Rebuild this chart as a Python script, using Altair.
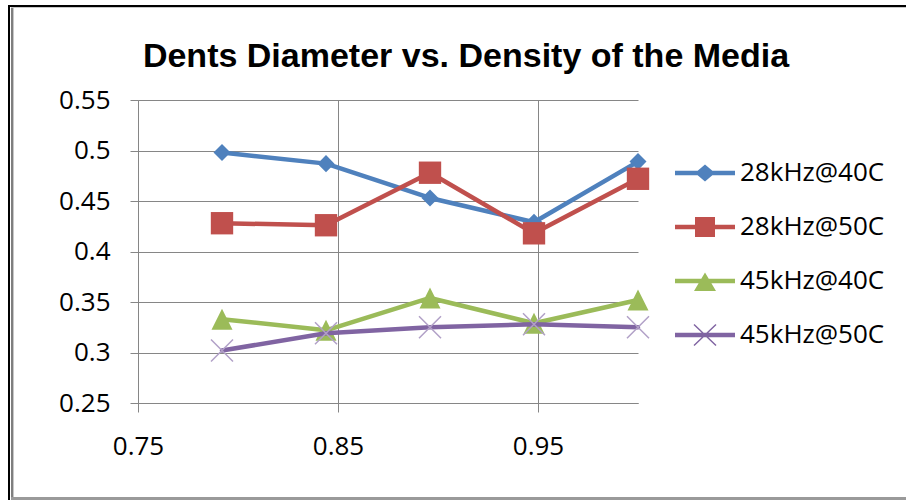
import altair as alt
import pandas as pd

# Media density (x) and measured dent diameters (y) for each run
density = [0.792, 0.844, 0.896, 0.948, 1.0]
series_names = ["28kHz@40C", "28kHz@50C", "45kHz@40C", "45kHz@50C"]
dia_28k_40c = [0.498, 0.487, 0.453, 0.429, 0.489]
dia_28k_50c = [0.428, 0.426, 0.478, 0.418, 0.472]
dia_45k_40c = [0.333, 0.322, 0.354, 0.329, 0.352]
dia_45k_50c = [0.302, 0.319, 0.325, 0.328, 0.325]

x_ticks = [0.75, 0.85, 0.95]
y_ticks = [0.25, 0.30, 0.35, 0.40, 0.45, 0.50, 0.55]

series_colors = ["#4F81BD", "#C0504D", "#9BBB59", "#8064A2"]
cross_color = "#B1A0C7"
grid_gray = "#868686"

rows = []
for name, vals in zip(series_names, [dia_28k_40c, dia_28k_50c, dia_45k_40c, dia_45k_50c]):
    for d, v in zip(density, vals):
        rows.append({"density": d, "diameter": v, "series": name})
df = pd.DataFrame(rows)

W, H = 500, 303
PAD_L, PAD_T = 138, 100

x_enc = alt.X(
    "density:Q",
    scale=alt.Scale(domain=[0.75, 1.0], nice=False, zero=False),
    axis=alt.Axis(values=x_ticks, format=".2f", title=None, grid=True,
                  tickSize=9, labelPadding=21, labelFlush=False),
)
y_enc = alt.Y(
    "diameter:Q",
    scale=alt.Scale(domain=[0.25, 0.55], nice=False, zero=False),
    axis=alt.Axis(values=y_ticks, format=".2~f", title=None, grid=True,
                  tickSize=8, labelPadding=20, labelFlush=False),
)

# marker shapes (unit paths scaled by the symbol size)
tri_path = "M0,-1L1,1L-1,1Z"
x_path = "M-1,-1L1,1M-1,1L1,-1"

# legend glyphs: a line segment with the series marker on it
seg = "M-3,-0.22H3V0.22H-3Z"
legend_paths = [
    seg + "M-1,0L0,-0.85L1,0L0,0.85Z",
    seg + "M-1,-1H1V1H-1Z",
    seg + "M0,-0.85L1.1,1L-1.1,1Z",
    seg + "M-1.15,-1L-1.05,-1.1L1.15,1L1.05,1.1ZM-1.15,1L1.05,-1.1L1.15,-1L-1.05,1.1Z",
]

base = alt.Chart(df)


def series_line(name, color):
    return base.transform_filter(alt.datum.series == name).mark_line(
        color=color, strokeWidth=4.5, strokeJoin="round", strokeCap="round"
    ).encode(x=x_enc, y=y_enc)


def series_points(name, **mark_kw):
    return base.transform_filter(alt.datum.series == name).mark_point(
        opacity=1, **mark_kw
    ).encode(x=x_enc, y=y_enc)


layers = []
layers.append(series_line(series_names[0], series_colors[0]))
layers.append(series_points(series_names[0], shape="diamond", filled=True,
                            size=290, color=series_colors[0]))
layers.append(series_line(series_names[1], series_colors[1]))
layers.append(series_points(series_names[1], shape="square", filled=True,
                            size=500, color=series_colors[1]))
layers.append(series_line(series_names[2], series_colors[2]))
layers.append(series_points(series_names[2], shape=tri_path, filled=True,
                            size=441, color=series_colors[2]))
layers.append(series_line(series_names[3], series_colors[3]))
layers.append(series_points(series_names[3], shape=x_path, filled=False,
                            size=484, strokeWidth=1.5, color=cross_color))

legend_cfg = dict(
    orient="none", legendX=554, legendY=60, title=None,
    symbolSize=400, symbolStrokeWidth=0, symbolOpacity=1,
    labelFont="Open Sans", labelFontSize=26, labelColor="black",
    labelOffset=22, rowPadding=28, padding=0,
)
legend_layer = base.mark_point(filled=True, opacity=0).encode(
    x=x_enc, y=y_enc,
    color=alt.Color("series:N",
                    scale=alt.Scale(domain=series_names, range=series_colors),
                    legend=alt.Legend(**legend_cfg)),
    shape=alt.Shape("series:N",
                    scale=alt.Scale(domain=series_names, range=legend_paths),
                    legend=alt.Legend(**legend_cfg)),
)

# outer frame of the chart area
frame_df = pd.DataFrame({"frame": [0]})
fr = alt.Chart(frame_df)
frame = [
    fr.mark_rule(color="black", strokeWidth=2).encode(
        x=alt.value(8 - PAD_L), x2=alt.value(906 - PAD_L), y=alt.value(6 - PAD_T)),
    fr.mark_rule(color="black", strokeWidth=2).encode(
        x=alt.value(9 - PAD_L), y=alt.value(5 - PAD_T), y2=alt.value(500 - PAD_T)),
    fr.mark_rule(color="#7f7f7f", strokeWidth=2).encode(
        x=alt.value(12 - PAD_L), y=alt.value(7 - PAD_T), y2=alt.value(500 - PAD_T)),
    fr.mark_rule(color="#c8c8c8", strokeWidth=1).encode(
        x=alt.value(13.5 - PAD_L), y=alt.value(8 - PAD_T), y2=alt.value(500 - PAD_T)),
    fr.mark_rule(color="#c8c8c8", strokeWidth=1).encode(
        x=alt.value(11 - PAD_L), x2=alt.value(906 - PAD_L), y=alt.value(7.5 - PAD_T)),
    fr.mark_rule(color="#9a9a9a", strokeWidth=3).encode(
        x=alt.value(11 - PAD_L), x2=alt.value(906 - PAD_L), y=alt.value(498.5 - PAD_T)),
]

chart = alt.layer(*frame, *layers, legend_layer).properties(
    width=W,
    height=H,
    background="white",
    autosize=alt.AutoSizeParams(type="none"),
    padding={"left": PAD_L, "top": PAD_T, "right": 906 - PAD_L - W, "bottom": 500 - PAD_T - H},
    title=alt.TitleParams(
        "Dents Diameter vs. Density of the Media",
        font="Liberation Sans", fontSize=34, fontWeight="bold", color="black",
        anchor="middle", frame="group", dx=78, dy=97, offset=0,
        baseline="alphabetic",
    ),
).configure_view(
    stroke="transparent"
).configure_axis(
    gridColor=grid_gray, gridWidth=1, domainColor=grid_gray, domainWidth=1,
    tickColor=grid_gray, tickWidth=1,
    labelFont="Open Sans", labelFontSize=26, labelColor="black",
)

chart.save("out.html", embed_options={"renderer": "svg", "actions": False})
